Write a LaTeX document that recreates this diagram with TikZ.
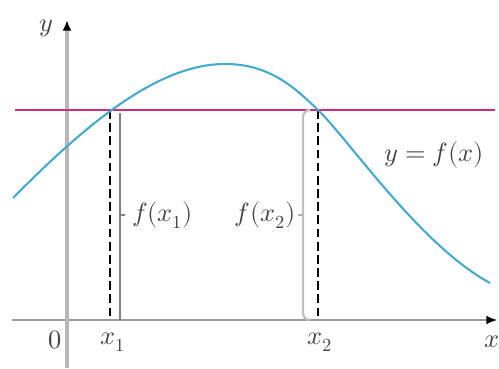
\documentclass[tikz,border=0pt]{standalone}
\usepackage{fontspec}
\setmainfont{Liberation Serif}
\usepackage{unicode-math}
\setmathfont{Latin Modern Math}
\usetikzlibrary{arrows.meta}
\definecolor{mag}{HTML}{C8307F}
\definecolor{curveblue}{HTML}{45AACB}
\definecolor{axisgray}{HTML}{9A9A9A}
\begin{document}
\begin{tikzpicture}[x=0.02cm,y=-0.02cm,
  lbl/.style={font=\fontsize{15}{17}\selectfont,inner sep=1pt,text=black!75},
  dashline/.style={black,line width=0.9pt,dash pattern=on 5pt off 2.5pt},
  bracket/.style={gray,line width=0.7pt}]
\useasboundingbox (0,0) rectangle (499,368);
% axes
\coordinate (xs) at (12,320);
\coordinate (xe) at (497,320);
\coordinate (ys) at (67,368);
\coordinate (ye) at (67,20);
\draw[axisgray,line width=0.9pt,-{Latex[black,length=6pt,width=5pt]}] (xs) -- (xe);
\draw[axisgray!70,line width=2pt,-{Latex[black,length=6pt,width=5pt]}] (ys) -- (ye);
% horizontal line
\coordinate (hs) at (15,110);
\coordinate (he) at (495,110);
\draw[mag,line width=1.6pt] (hs) -- (he);
% points
\coordinate (p1) at (110,110);
\coordinate (p2) at (318,110);
\coordinate (q1) at (110,320);
\coordinate (q2) at (318,320);
\coordinate (top) at (225,64);
\coordinate (cs) at (13,198);
\coordinate (ce) at (490,283);
% brackets
\coordinate (b1t) at (120,113);
\coordinate (b1b) at (120,320);
\coordinate (b1m) at (120,215);
\coordinate (b1k) at (125,215);
\draw[bracket] (b1t) -- (b1b);
\draw[bracket] (b1m) -- (b1k);
\coordinate (b2t) at (310,110);
\coordinate (b2b) at (310,320);
\coordinate (b2m) at (303,215);
\coordinate (b2k) at (298,215);
\draw[gray!50,line width=1.3pt,rounded corners=4pt] (b2t) -| (b2m) |- (b2b);
\draw[gray!60,line width=0.7pt] (b2m) -- (b2k);
% dashed lines
\draw[dashline] (p1) -- (q1);
\draw[dashline] (p2) -- (q2);
% curve
\draw[curveblue,line width=1.2pt]
  (cs) .. controls (90,120) and (160,64) .. (top)
       .. controls (270,64) and (295,88) .. (p2)
       .. controls (350,141) and (420,245) .. (ce);
% labels
\node[lbl] (ylab) at (46,28) {$y$};
\node[lbl] (xlab) at (492,342) {$x$};
\node[lbl] (zero) at (55,340) {$0$};
\node[lbl] (x1) at (113,342) {$x_1$};
\node[lbl] (x2) at (320,342) {$x_2$};
\node[lbl,anchor=west] (f1) at (130,215) {$f(x_1)$};
\node[lbl,anchor=east] (f2) at (b2k) {$f(x_2)$};
\node[lbl] (fx) at (434,155) {$y = f(x)$};
\end{tikzpicture}
\end{document}
